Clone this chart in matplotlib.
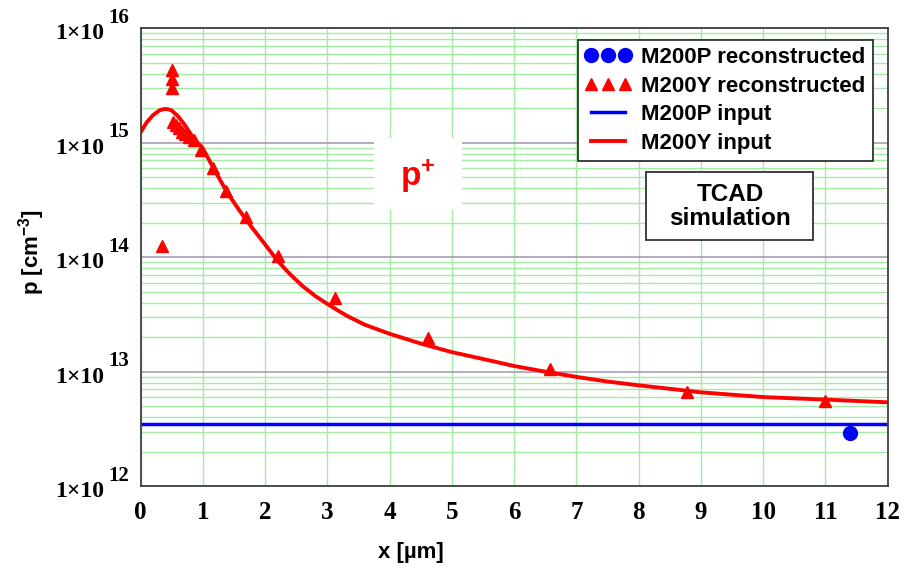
import numpy as np
import matplotlib
matplotlib.use("Agg")
import matplotlib.pyplot as plt
from matplotlib.patches import Rectangle
from matplotlib.ticker import FixedLocator, LogLocator, NullFormatter
from matplotlib.transforms import blended_transform_factory

plt.rcParams['mathtext.default'] = 'regular'

# M200Y input profile
y_in_x = [0, 0.1, 0.2, 0.3, 0.35, 0.4, 0.45, 0.5, 0.6, 0.7, 0.8, 0.9, 1.0, 1.2, 1.4,
          1.6, 1.8, 2.0, 2.2, 2.4, 2.6, 2.8, 3.0, 3.3, 3.6, 4.0, 4.5, 5.0, 5.5, 6.0,
          6.5, 7.0, 7.5, 8.0, 9.0, 10.0, 11.0, 12.0]
y_in_p = [1.23e15, 1.51e15, 1.74e15, 1.91e15, 1.95e15, 1.97e15, 1.95e15, 1.91e15,
          1.70e15, 1.45e15, 1.20e15, 1.02e15, 8.9e14, 5.6e14, 3.6e14, 2.5e14, 1.78e14,
          1.29e14, 9.3e13, 7.1e13, 5.6e13, 4.6e13, 3.9e13, 3.1e13, 2.57e13, 2.14e13,
          1.76e13, 1.48e13, 1.29e13, 1.12e13, 1.0e13, 9.0e12, 8.2e12, 7.6e12, 6.6e12,
          6.0e12, 5.7e12, 5.4e12]

# M200P input (flat)
p_in_x = [0, 12]
p_in_p = [3.5e12, 3.5e12]

# reconstructed points
y_rec_x = [0.35, 0.5, 0.5, 0.5, 0.52, 0.57, 0.62, 0.67, 0.72, 0.78, 0.85, 0.97,
           1.16, 1.37, 1.69, 2.2, 3.12, 4.61, 6.57, 8.77, 11.0]
y_rec_p = [1.26e14, 3.0e15, 3.6e15, 4.3e15, 1.5e15, 1.42e15, 1.33e15, 1.25e15, 1.18e15,
           1.11e15, 1.05e15, 8.6e14, 6.0e14, 3.8e14, 2.22e14, 1.02e14, 4.4e13,
           1.95e13, 1.05e13, 6.7e12, 5.6e12]
p_rec_x = [11.4]
p_rec_p = [2.9e12]

xticks = list(range(0, 13))
ydecades = [1e12, 1e13, 1e14, 1e15, 1e16]
yexps = ['12', '13', '14', '15', '16']

fig = plt.figure(figsize=(9.19, 5.74), dpi=100)
ax = fig.add_axes([0.153, 0.153, 0.813, 0.798])

ax.set_yscale('log')
ax.set_xlim(0, 12)
ax.set_ylim(1e12, 1e16)

ax.yaxis.set_major_locator(FixedLocator(ydecades))
ax.yaxis.set_minor_locator(LogLocator(base=10, subs=np.arange(2, 10)))
ax.yaxis.set_minor_formatter(NullFormatter())
ax.set_yticklabels([''] * len(ydecades))
ax.set_xticks(xticks)
ax.set_xticklabels([str(t) for t in xticks], fontsize=18,
                   family='Liberation Serif', fontweight='bold')
ax.tick_params(axis='both', which='both', length=0)
ax.tick_params(axis='x', pad=11)

# "1x10^N" labels, exponent drawn almost full size like the original
trans = blended_transform_factory(ax.transAxes, ax.transData)
for v, e in zip(ydecades, yexps):
    ax.annotate('1×10', xy=(0, v), xycoords=trans, xytext=(-26, -4),
                textcoords='offset points', ha='right', va='center',
                fontsize=17, family='Liberation Serif', fontweight='bold',
                annotation_clip=False)
    ax.annotate(e, xy=(0, v), xycoords=trans, xytext=(-23.5, 7.5),
                textcoords='offset points', ha='left', va='center',
                fontsize=15, family='Liberation Serif', fontweight='bold',
                annotation_clip=False)

ax.grid(True, which='minor', axis='y', color='#a4eca4', lw=1.0)
ax.grid(True, which='major', axis='y', color='#aa9cb4', lw=1.2)
ax.grid(True, which='major', axis='x', color='#a4eca4', lw=1.0)
ax.set_axisbelow(True)
for s in ax.spines.values():
    s.set_color('#404040')
    s.set_linewidth(1.3)

ax.plot(p_rec_x, p_rec_p, 'o', color='#0000ff', ms=10, ls='none',
        label='M200P reconstructed')
ax.plot(y_rec_x, y_rec_p, '^', color='#ff0000', ms=9, ls='none',
        label='M200Y reconstructed')
ax.plot(p_in_x, p_in_p, color='#0000ff', lw=2.5, label='M200P input')
ax.plot(y_in_x, y_in_p, color='#ff0000', lw=2.8, label='M200Y input')

leg = ax.legend(loc='upper right', bbox_to_anchor=(0.980, 0.974),
                prop={'family': 'Liberation Sans', 'weight': 'bold', 'size': 16},
                numpoints=3, handlelength=2.1, handletextpad=0.45,
                borderpad=0.32, labelspacing=0.34, borderaxespad=0,
                fancybox=False, edgecolor='#303030', framealpha=1)
leg.get_frame().set_linewidth(1.3)

# TCAD box
ax.add_patch(Rectangle((0.677, 0.537), 0.2236, 0.1485, transform=ax.transAxes,
                       fc='white', ec='#303030', lw=1.3, zorder=3))
ax.text(0.789, 0.611, 'TCAD\nsimulation', transform=ax.transAxes, ha='center',
        va='center', fontsize=17.5, fontweight='bold', family='Liberation Sans',
        linespacing=1.05, zorder=4)

# p+ label on white patch
ax.add_patch(Rectangle((0.313, 0.603), 0.1165, 0.157, transform=ax.transAxes,
                       fc='white', ec='none', zorder=1.5))
ax.text(0.371, 0.677, 'p$^{+}$', transform=ax.transAxes, ha='center',
        va='center', fontsize=24, fontweight='bold', color='#ff0000',
        family='Liberation Sans', zorder=4)

fig.text(0.447, 0.038, 'x [µm]', ha='center', va='center', fontsize=16,
         fontweight='bold', family='Liberation Sans')
fig.text(0.034, 0.561, 'p [cm$^{-3}$]', ha='center', va='center', fontsize=16,
         fontweight='bold', family='Liberation Sans', rotation=90)

fig.savefig('out.png', dpi=100)
